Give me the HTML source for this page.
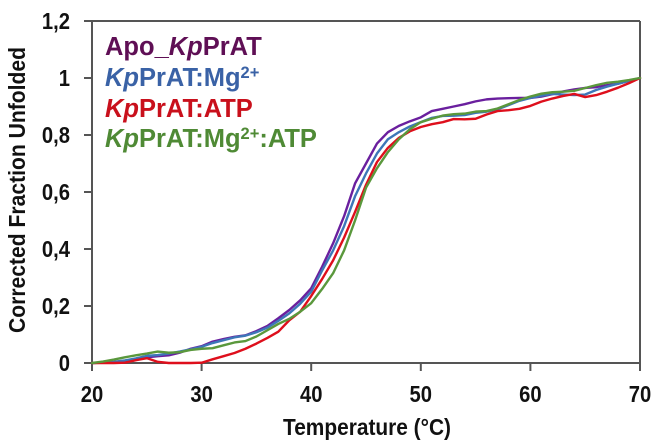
<!DOCTYPE html>
<html lang="en">
<head>
<meta charset="utf-8">
<title>Corrected Fraction Unfolded vs Temperature</title>
<style>
html,body{margin:0;padding:0;background:#fff;width:661px;height:445px;overflow:hidden}
svg{display:block;filter:blur(0.35px)}
.tick{font-family:"Liberation Sans",sans-serif;font-weight:bold;font-size:23.5px;fill:#111}
.title{font-family:"Liberation Sans",sans-serif;font-weight:bold;font-size:23px;fill:#111}
.leg{font-family:"Liberation Sans",sans-serif;font-weight:bold;font-size:25.5px}
.sup{font-size:16.5px}
</style>
</head>
<body>
<svg id="chart" width="661" height="445" viewBox="0 0 661 445" xmlns="http://www.w3.org/2000/svg">
  <rect x="0" y="0" width="661" height="445" fill="#fff"/>
  <g id="axes"></g>
  <g id="series"></g>
  <text class="title" transform="translate(25,333) rotate(-90)" textLength="286" lengthAdjust="spacingAndGlyphs">Corrected Fraction Unfolded</text>
  <text class="title" x="283" y="435" textLength="168" lengthAdjust="spacingAndGlyphs">Temperature (°C)</text>
  <g>
    <text class="leg" x="105" y="55" fill="#5f0f55">Apo_<tspan font-style="italic">Kp</tspan>PrAT</text>
    <text class="leg" x="105" y="86" fill="#3a62a6"><tspan font-style="italic">Kp</tspan>PrAT:Mg<tspan class="sup" dy="-8">2+</tspan></text>
    <text class="leg" x="105" y="117" fill="#c9101c"><tspan font-style="italic">Kp</tspan>PrAT:ATP</text>
    <text class="leg" x="105" y="147" fill="#4f8a35"><tspan font-style="italic">Kp</tspan>PrAT:Mg<tspan class="sup" dy="-8">2+</tspan><tspan dy="8">:ATP</tspan></text>
  </g>
</svg>
<script>
const temperatures = [20,21,22,23,24,25,26,27,28,29,30,31,32,33,34,35,36,37,38,39,40,41,42,43,44,45,46,47,48,49,50,51,52,53,54,55,56,57,58,59,60,61,62,63,64,65,66,67,68,69,70];
const apoValues = [0,.001,.002,.006,.012,.02,.024,.027,.036,.05,.059,.075,.084,.092,.097,.112,.13,.157,.186,.22,.262,.338,.42,.515,.63,.70,.77,.81,.832,.848,.862,.884,.892,.9,.908,.918,.925,.928,.929,.93,.93,.935,.943,.953,.96,.965,.968,.975,.98,.99,1];
const mgValues = [0,.002,.004,.009,.016,.025,.028,.033,.04,.048,.057,.07,.08,.09,.096,.108,.124,.148,.174,.208,.25,.325,.395,.48,.585,.665,.735,.785,.81,.83,.845,.86,.867,.868,.87,.878,.882,.89,.905,.92,.93,.938,.944,.942,.94,.942,.958,.97,.98,.99,1];
const atpValues = [0,0,0,.001,.01,.017,.004,0,0,0,.001,.013,.024,.035,.05,.068,.088,.11,.15,.18,.235,.295,.36,.44,.53,.625,.705,.755,.79,.813,.828,.838,.845,.856,.855,.857,.872,.884,.887,.892,.902,.917,.928,.937,.944,.933,.94,.952,.966,.982,1];
const mgAtpValues = [0,.005,.012,.02,.027,.033,.04,.036,.038,.046,.05,.052,.062,.072,.077,.093,.115,.137,.155,.18,.21,.26,.315,.395,.5,.615,.683,.74,.785,.82,.845,.857,.868,.873,.875,.882,.884,.893,.908,.923,.935,.945,.95,.952,.955,.965,.975,.983,.987,.993,1];
const xTicks = [20,30,40,50,60,70];
const yTicks = [0,0.2,0.4,0.6,0.8,1,1.2];
const yTickLabels = ["0","0,2","0,4","0,6","0,8","1","1,2"];

const NS = "http://www.w3.org/2000/svg";
const xScale = t => 92 + (t - 20) * (640 - 92) / 50;
const yScale = v => 363 - v * (363 - 21) / 1.2;
const axisColor = "#555";
const labelSqueeze = 0.86;
const axes = document.getElementById("axes");
const seriesGroup = document.getElementById("series");

function line(x1, y1, x2, y2) {
  const el = document.createElementNS(NS, "line");
  el.setAttribute("x1", x1);
  el.setAttribute("y1", y1);
  el.setAttribute("x2", x2);
  el.setAttribute("y2", y2);
  el.setAttribute("stroke", axisColor);
  el.setAttribute("stroke-width", "2");
  axes.appendChild(el);
  return el;
}

const xAxis = line(xScale(20), yScale(0), xScale(70), yScale(0));


const yAxis = line(xScale(20), yScale(1.2), xScale(20), yScale(0));


const topBorder = line(xScale(20), yScale(1.2), xScale(70), yScale(1.2));


const rightBorder = line(xScale(70), yScale(1.2), xScale(70), yScale(0));



xTicks.forEach(t => {
  const tick = line(xScale(t), yScale(0), xScale(t), yScale(0) + 8);
  
  
  const label = document.createElementNS(NS, "text");
  
  
  label.setAttribute("class", "tick");
  label.setAttribute("transform", "translate(" + xScale(t) + ",402) scale(" + labelSqueeze + ",1)");
  label.setAttribute("text-anchor", "middle");
  label.textContent = t;
  axes.appendChild(label);
});

yTicks.forEach((v, i) => {
  const tick = line(xScale(20) - 8, yScale(v), xScale(20), yScale(v));
  
  
  const label = document.createElementNS(NS, "text");
  
  
  label.setAttribute("class", "tick");
  label.setAttribute("transform", "translate(70," + (yScale(v) + 8) + ") scale(" + labelSqueeze + ",1)");
  label.setAttribute("text-anchor", "end");
  label.textContent = yTickLabels[i];
  axes.appendChild(label);
});

function drawSeries(values, color, name) {
  const path = document.createElementNS(NS, "path");
  
  
  path.setAttribute("d", values.map((v, i) => (i ? "L" : "M") + xScale(temperatures[i]).toFixed(2) + " " + yScale(v).toFixed(2)).join(""));
  path.setAttribute("fill", "none");
  path.setAttribute("stroke", color);
  path.setAttribute("stroke-width", "2.4");
  path.setAttribute("stroke-linejoin", "round");
  path.setAttribute("stroke-linecap", "round");
  seriesGroup.appendChild(path);
}

drawSeries(apoValues, "#6a1f9e", "series-apo");
drawSeries(mgValues, "#3d76b8", "series-mg");
drawSeries(atpValues, "#de0f1c", "series-atp");
drawSeries(mgAtpValues, "#5a983c", "series-mg-atp");
</script>
</body>
</html>
